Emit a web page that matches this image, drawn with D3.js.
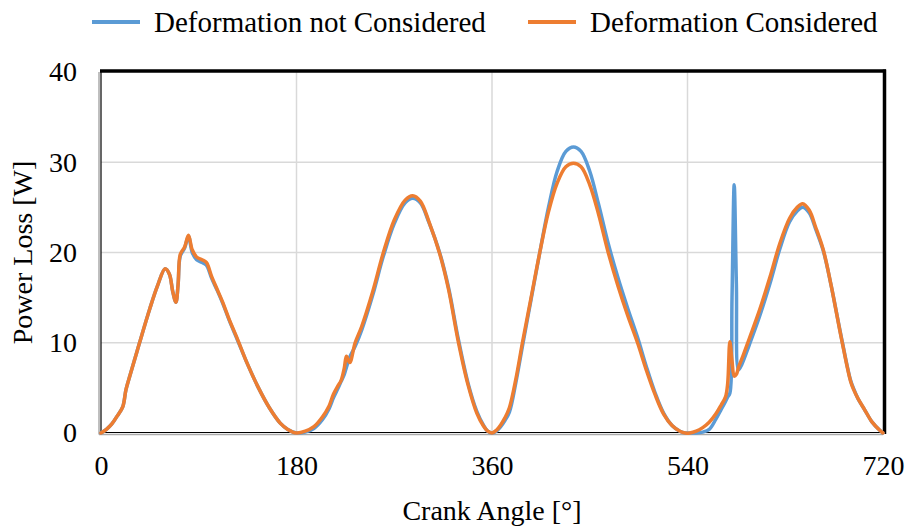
<!DOCTYPE html>
<html>
<head>
<meta charset="utf-8">
<script src="https://cdn.jsdelivr.net/npm/d3@7"></script>
<style>
    body { margin: 0; background: #fff; }
</style>
</head>
<body>
<svg id="chart" width="912" height="526"></svg>
<script>
// crank angle samples [deg], shared by both series
const angles = [0, 5, 10, 15, 20, 23, 27, 35, 45, 52, 59, 63, 66, 69, 71, 73, 77, 80.5, 84, 88, 93, 97, 102, 107, 112, 118, 125, 135, 145, 155, 165, 172,
    180, 188, 196, 204, 210, 214, 218, 221, 224, 226, 229, 234, 240, 250, 260, 270, 280, 287, 294, 302, 312, 320, 329, 338, 346, 352, 356,
    360, 364, 368, 372, 376, 382, 388, 396, 404, 412, 420, 428, 435, 442, 450, 458, 467, 476, 485, 494, 502, 510, 518, 526, 533, 538,
    542, 548, 554, 560, 566, 571, 575, 577, 579, 581, 583, 585, 587, 590, 597, 606, 616, 625, 634, 641, 646, 652, 658, 665, 672, 682, 690, 693, 697, 703, 710, 717, 720];

// power loss [W], deformation not considered
const notConsidered = [0, 0.4, 1.0, 1.9, 2.9, 4.8, 6.5, 9.8, 13.8, 16.3, 18.2, 17.6, 15.7, 14.5, 16.5, 19.6, 20.5, 21.8, 20.0, 19.2, 18.9, 18.6, 17.1, 15.8, 14.4, 12.5, 10.5, 7.6, 5.0, 2.8, 1.1, 0.4,
    0, 0.1, 0.5, 1.5, 2.7, 3.9, 4.9, 5.7, 6.5, 7.3, 8.4, 9.6, 11.4, 15.2, 19.6, 23.2, 25.5, 26.0, 25.5, 23.3, 19.9, 16.1, 10.4, 5.5, 2.4, 0.9, 0.2,
    0, 0.2, 0.7, 1.4, 2.3, 5.6, 9.6, 14.8, 20.0, 25.0, 29.0, 31.2, 31.7, 31.2, 29.0, 25.4, 21.0, 17.2, 13.8, 10.6, 7.4, 4.5, 2.2, 0.8, 0.2, 0,
    0, 0, 0.1, 0.4, 1.5, 2.6, 3.5, 4.0, 4.4, 15.0, 27.5, 16.5, 7.0, 7.6, 9.8, 12.8, 16.6, 20.4, 23.4, 24.6, 25.0, 24.4, 22.6, 20.2, 16.5, 10.4, 5.9, 4.9, 3.8, 2.6, 1.2, 0.3, 0];

// power loss [W], deformation considered
const considered = [0, 0.4, 1.0, 1.9, 2.9, 4.8, 6.5, 9.8, 13.8, 16.3, 18.2, 17.6, 15.7, 14.5, 16.5, 19.8, 20.6, 21.9, 20.3, 19.5, 19.2, 18.9, 17.3, 15.9, 14.5, 12.6, 10.6, 7.6, 5.0, 2.8, 1.1, 0.4,
    0, 0.2, 0.7, 1.8, 3.0, 4.3, 5.2, 5.8, 7.2, 8.5, 7.8, 10.0, 11.8, 15.6, 20.0, 23.6, 25.8, 26.3, 25.7, 23.4, 19.8, 15.9, 10.1, 5.3, 2.2, 0.8, 0.2,
    0, 0.3, 0.9, 1.7, 2.8, 6.0, 10.0, 15.0, 20.0, 24.5, 27.7, 29.5, 29.9, 29.5, 27.5, 24.3, 20.0, 16.3, 13.0, 10.0, 7.0, 4.3, 2.1, 0.8, 0.2, 0,
    0, 0.2, 0.6, 1.2, 2.1, 3.1, 4.0, 5.5, 10.1, 8.0, 6.3, 6.5, 7.3, 8.2, 10.5, 13.5, 17.3, 21.0, 23.8, 25.0, 25.4, 24.7, 22.8, 20.3, 16.5, 10.3, 5.8, 4.8, 3.8, 2.6, 1.2, 0.3, 0];

const xTicks = [0, 180, 360, 540, 720];
const yTicks = [0, 10, 20, 30, 40];
const seriesNames = ["Deformation not Considered", "Deformation Considered"];
const seriesColors = ["#5b9bd5", "#ed7d31"];

const FONT = "'Liberation Serif', Tinos, 'Times New Roman', Times, 'Nimbus Roman', 'Noto Serif', 'DejaVu Serif', FreeSerif, serif";

const margin = {top: 72, right: 29, bottom: 93, left: 101};
const width = 912 - margin.left - margin.right;
const height = 526 - margin.top - margin.bottom;

const svg = d3.select("#chart").style("font-family", FONT);
const chart = svg.append("g").attr("transform", "translate(" + margin.left + "," + margin.top + ")");

const xScale = d3.scaleLinear().domain([0, 720]).range([0, width]);
const yScale = d3.scaleLinear().domain([0, 40]).range([height, 0]);

// grid lines
chart.append("g").selectAll("line").data(yTicks.slice(1, -1)).join("line")
    .attr("x1", 0).attr("x2", width)
    .attr("y1", d => yScale(d)).attr("y2", d => yScale(d))
    .attr("stroke", "#d9d9d9").attr("stroke-width", 1.5);
chart.append("g").selectAll("line").data(xTicks.slice(1, -1)).join("line")
    .attr("y1", 0).attr("y2", height)
    .attr("x1", d => xScale(d)).attr("x2", d => xScale(d))
    .attr("stroke", "#d9d9d9").attr("stroke-width", 1.5);

// axes, ticks only as text
const xAxis = chart.append("g").attr("transform", "translate(0," + height + ")")
    .call(d3.axisBottom(xScale).tickValues(xTicks).tickSize(0).tickPadding(22));
const yAxis = chart.append("g")
    .call(d3.axisLeft(yScale).tickValues(yTicks).tickSize(0).tickPadding(24));
[xAxis, yAxis].forEach(a => {
    a.attr("font-family", null).attr("font-size", null);
    a.select(".domain").remove();
    a.selectAll("text").style("font-family", FONT).style("font-size", "28px").attr("fill", "#000");
});

// frame: heavy top/right, thin doubled left/bottom
chart.append("line").attr("x1", -1).attr("x2", width + 3).attr("y1", -1).attr("y2", -1)
    .attr("stroke", "#000").attr("stroke-width", 3.5);
chart.append("line").attr("x1", width + 1.5).attr("x2", width + 1.5).attr("y1", -2.5).attr("y2", height + 1)
    .attr("stroke", "#000").attr("stroke-width", 3.5);
chart.append("line").attr("x1", -2).attr("x2", -2).attr("y1", 0).attr("y2", height + 1.5)
    .attr("stroke", "#aaa").attr("stroke-width", 1.5);
chart.append("line").attr("x1", 0).attr("x2", 0).attr("y1", 0).attr("y2", height)
    .attr("stroke", "#000").attr("stroke-width", 1.2);
chart.append("line").attr("x1", 0).attr("x2", width).attr("y1", height - 0.5).attr("y2", height - 0.5)
    .attr("stroke", "#000").attr("stroke-width", 1.2);
chart.append("line").attr("x1", -2).attr("x2", width).attr("y1", height + 1.5).attr("y2", height + 1.5)
    .attr("stroke", "#aaa").attr("stroke-width", 1.5);

// series lines
const line = d3.line()
    .x((d, i) => xScale(angles[i]))
    .y(d => yScale(d))
    .curve(d3.curveCatmullRom.alpha(0.5));

[notConsidered, considered].forEach((vals, k) => {
    chart.append("path")
        .attr("d", line(vals))
        .attr("fill", "none")
        .attr("stroke", seriesColors[k])
        .attr("stroke-width", 3.5)
        .attr("stroke-linejoin", "round")
        .attr("stroke-linecap", "round");
});

// axis titles
svg.append("text")
    .attr("x", margin.left + width / 2).attr("y", 520)
    .attr("text-anchor", "middle").style("font-size", "28px")
    .text("Crank Angle [°]");
svg.append("text")
    .attr("transform", "translate(32," + (margin.top + height / 2) + ") rotate(-90)")
    .attr("text-anchor", "middle").style("font-size", "28px")
    .text("Power Loss [W]");

// legend
const legendX = [92, 528];
const legend = svg.append("g").selectAll("g").data(seriesNames).join("g")
    .attr("transform", (d, i) => "translate(" + legendX[i] + ",22)");
legend.append("line").attr("x1", 0).attr("x2", 48).attr("y1", 0).attr("y2", 0)
    .attr("stroke", (d, i) => seriesColors[i]).attr("stroke-width", 4);
legend.append("text").attr("x", 62).attr("y", 10).style("font-size", "29px").text(d => d);
</script>
</body>
</html>
